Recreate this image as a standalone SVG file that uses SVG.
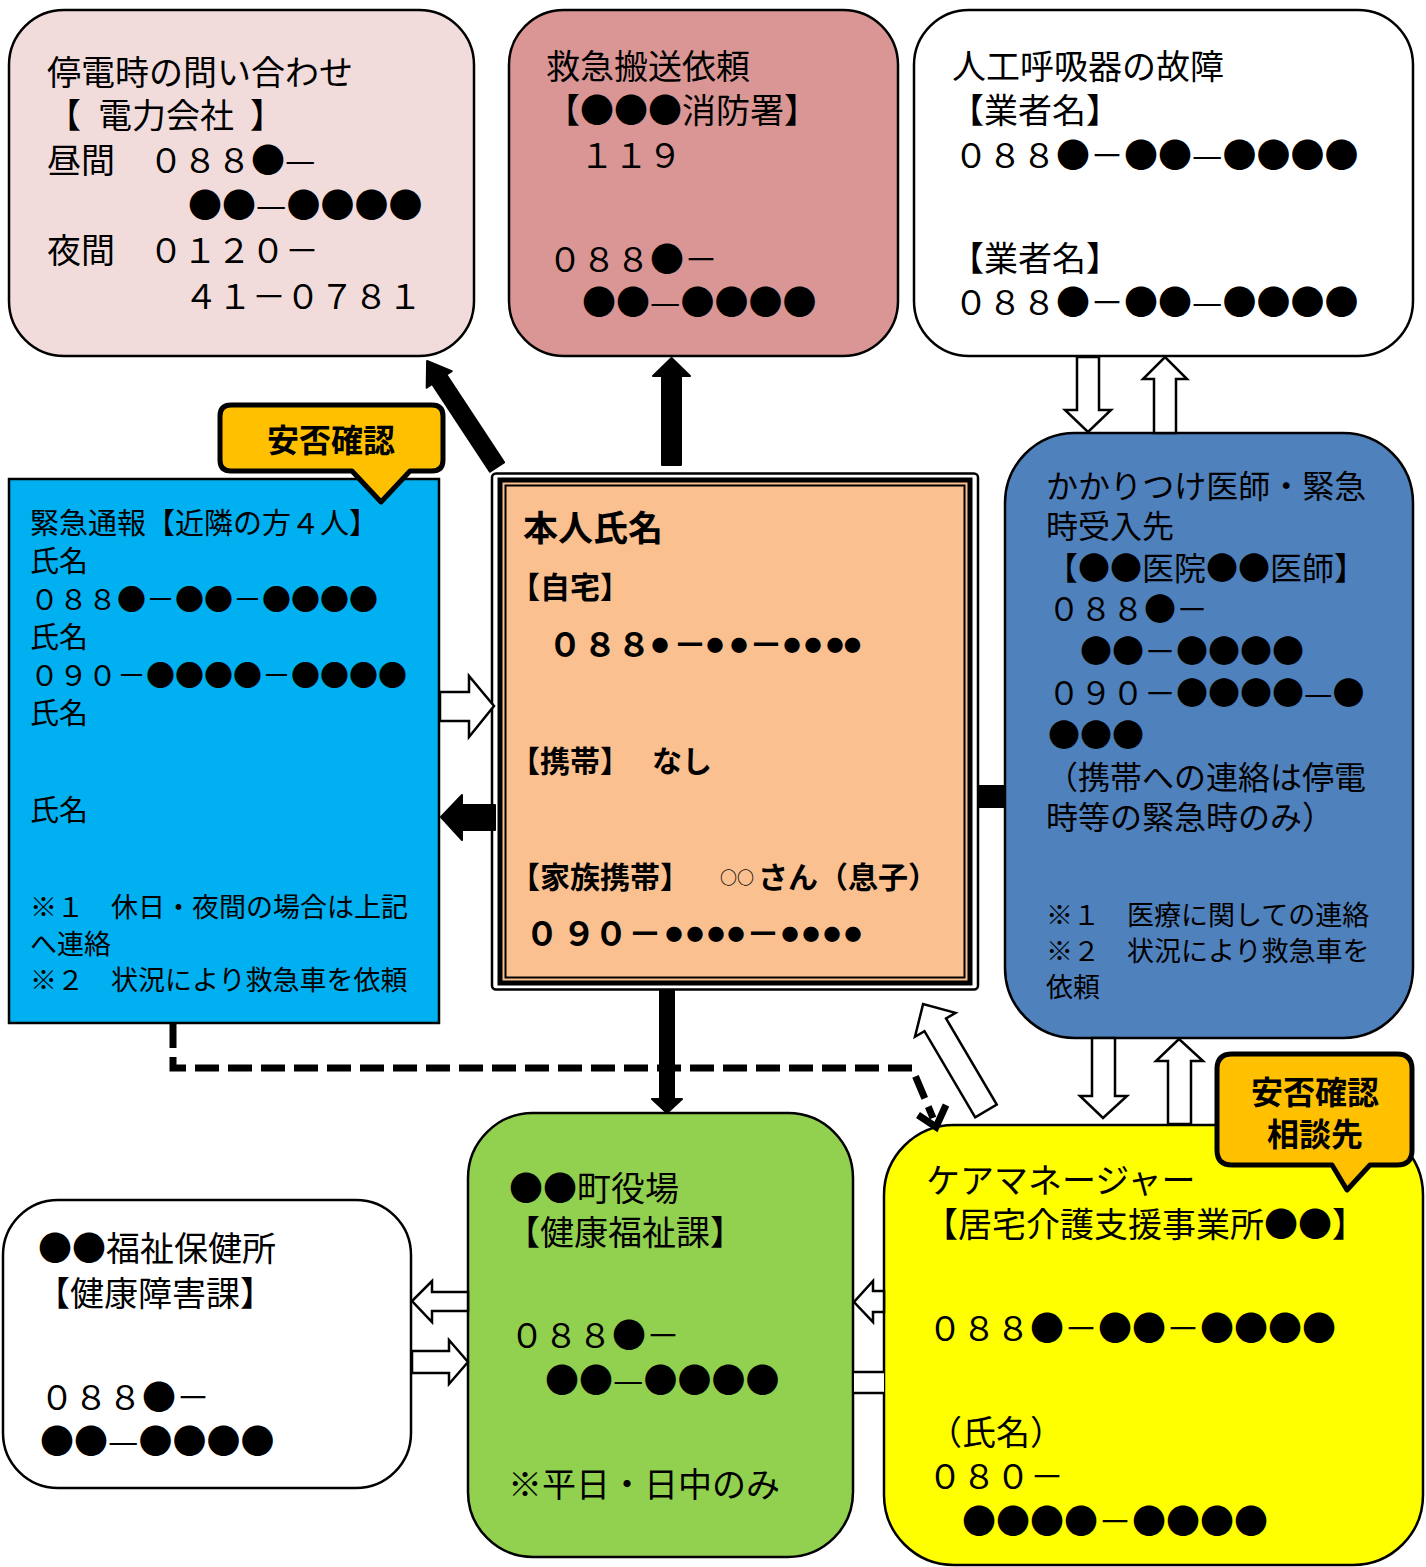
<svg xmlns="http://www.w3.org/2000/svg" width="1426" height="1567" viewBox="0 0 1426 1567">
<style>
text{font-family:"Noto Sans CJK JP","Noto Sans CJK SC",sans-serif;fill:#000}
.f34{font-size:34px}
.f32{font-size:32px}
.f29{font-size:29px}
.f27{font-size:27px}
.bd{font-weight:bold}
.sm{font-size:17px}
.box{stroke:#000;stroke-width:2.5}
.wa{fill:#fff;stroke:#000;stroke-width:2.5;stroke-linejoin:miter}
.ba{fill:#000;stroke:#000;stroke-width:2;stroke-linejoin:round}
.callout{fill:#FFC000;stroke:#000;stroke-width:5;stroke-linejoin:round}
</style>
<rect width="1426" height="1567" fill="#fff"/>

<g id="node-power">
<rect class="box" x="9" y="10" width="465" height="346" rx="55" fill="#F2DCDB"/>
<text class="f34">
<tspan x="47" y="85">停電時の問い合わせ</tspan>
<tspan x="47" y="128">【 </tspan><tspan x="98" y="128">電力会社 </tspan><tspan x="250" y="128">】</tspan>
<tspan x="47" y="173">昼間　０８８●—</tspan>
<tspan x="188" y="218">●●—●●●●</tspan>
<tspan x="47" y="263">夜間　０１２０－</tspan>
<tspan x="184" y="309">４１－０７８１</tspan>
</text>
</g>

<g id="node-ambulance">
<rect class="box" x="509" y="10" width="389" height="346" rx="55" fill="#D99694"/>
<text class="f34">
<tspan x="546" y="79">救急搬送依頼</tspan>
<tspan x="546" y="123">【●●●消防署】</tspan>
<tspan x="580" y="168">１１９</tspan>
<tspan x="548" y="272">０８８●－</tspan>
<tspan x="582" y="315">●●—●●●●</tspan>
</text>
</g>

<g id="node-ventilator">
<rect class="box" x="914" y="10" width="499" height="346" rx="55" fill="#fff"/>
<text class="f34">
<tspan x="952" y="79">人工呼吸器の故障</tspan>
<tspan x="950" y="123">【業者名】</tspan>
<tspan x="954" y="168">０８８●－●●—●●●●</tspan>
<tspan x="950" y="271">【業者名】</tspan>
<tspan x="954" y="315">０８８●－●●—●●●●</tspan>
</text>
</g>

<g id="node-neighbors">
<rect class="box" x="9" y="479" width="430" height="544" fill="#00B0F0"/>
<text class="f29">
<tspan x="30" y="534">緊急通報【近隣の方４人】</tspan>
<tspan x="30" y="572">氏名</tspan>
<tspan x="30" y="610">０８８●－●●－●●●●</tspan>
<tspan x="30" y="648">氏名</tspan>
<tspan x="30" y="686">０９０－●●●●－●●●●</tspan>
<tspan x="30" y="724">氏名</tspan>
<tspan x="30" y="821">氏名</tspan>
<tspan class="f27" x="30" y="917">※１　休日・夜間の場合は上記</tspan>
<tspan class="f27" x="30" y="954">へ連絡</tspan>
<tspan class="f27" x="30" y="990">※２　状況により救急車を依頼</tspan>
</text>
</g>

<g id="callout-anpi">
<path class="callout" d="M231 405 H432 Q443 405 443 416 V460 Q443 471 432 471 H410 L381 502 L352 471 H231 Q220 471 220 460 V416 Q220 405 231 405 Z"/>
<text class="f32 bd" x="331" y="452" text-anchor="middle">安否確認</text>
</g>

<g id="node-person">
<rect x="492" y="473.5" width="486" height="516" rx="4" fill="#fff" stroke="#000" stroke-width="2.5"/>
<rect x="500" y="480" width="470" height="503" fill="#FAC090" stroke="#000" stroke-width="5"/>
<rect x="505.5" y="485.5" width="459" height="492" fill="none" stroke="#000" stroke-width="2"/>
<text class="bd" font-size="30">
<tspan x="523" y="541" font-size="35">本人氏名</tspan>
<tspan x="510" y="598">【自宅】</tspan>
<tspan font-size="34" text-anchor="middle" x="565 600 634 660 690 715 739 766 792 813 835 856" y="657 657 657 652 657 652 652 657 652 652 652 652">０８８<tspan class="sm">●</tspan>－<tspan class="sm">●●</tspan>－<tspan class="sm">●●●●</tspan></tspan>
<tspan x="510" y="772">【携帯】</tspan><tspan x="652" y="772">なし</tspan>
<tspan x="510" y="888">【家族携帯】</tspan><tspan class="sm" x="720" y="884">○○</tspan><tspan x="758" y="888">さん（息子）</tspan>
<tspan font-size="34" text-anchor="middle" x="542 579 611 645 674 695 716 736 763 790 811 832 853" y="946 946 946 946 941 941 941 941 946 941 941 941 941">０９０－<tspan class="sm">●●●●</tspan>－<tspan class="sm">●●●●</tspan></tspan>
</text>
</g>

<g id="node-doctor">
<rect class="box" x="1005" y="433" width="408" height="605" rx="70" fill="#4F81BD"/>
<text class="f32">
<tspan x="1046" y="498">かかりつけ医師・緊急</tspan>
<tspan x="1046" y="538">時受入先</tspan>
<tspan x="1046" y="580">【●●医院●●医師】</tspan>
<tspan x="1048" y="621">０８８●－</tspan>
<tspan x="1080" y="663">●●－●●●●</tspan>
<tspan x="1048" y="705">０９０－●●●●—●</tspan>
<tspan x="1048" y="747">●●●</tspan>
<tspan x="1046" y="789">（携帯への連絡は停電</tspan>
<tspan x="1046" y="829">時等の緊急時のみ）</tspan>
<tspan class="f27" x="1046" y="925">※１　医療に関しての連絡</tspan>
<tspan class="f27" x="1046" y="961">※２　状況により救急車を</tspan>
<tspan class="f27" x="1046" y="997">依頼</tspan>
</text>
</g>

<g id="node-townhall">
<rect class="box" x="468" y="1113" width="385" height="444" rx="65" fill="#92D050"/>
<text class="f34">
<tspan x="509" y="1201">●●町役場</tspan>
<tspan x="506" y="1245">【健康福祉課】</tspan>
<tspan x="510" y="1348">０８８●－</tspan>
<tspan x="545" y="1393">●●—●●●●</tspan>
<tspan x="508" y="1497">※平日・日中のみ</tspan>
</text>
</g>

<g id="node-health">
<rect class="box" x="3" y="1200" width="408" height="288" rx="55" fill="#fff"/>
<text class="f34">
<tspan x="38" y="1261">●●福祉保健所</tspan>
<tspan x="36" y="1306">【健康障害課】</tspan>
<tspan x="40" y="1410">０８８●－</tspan>
<tspan x="40" y="1454">●●—●●●●</tspan>
</text>
</g>

<g id="node-caremanager">
<rect class="box" x="884" y="1125" width="539" height="440" rx="70" fill="#FFFF00"/>
<text class="f34">
<tspan x="926" y="1193">ケアマネージャー</tspan>
<tspan x="924" y="1237">【居宅介護支援事業所●●】</tspan>
<tspan x="928" y="1341">０８８●－●●－●●●●</tspan>
<tspan x="928" y="1445">（氏名）</tspan>
<tspan x="928" y="1489">０８０－</tspan>
<tspan x="962" y="1534">●●●●－●●●●</tspan>
</text>
</g>

<g id="callout-anpi-soudan">
<path class="callout" d="M1232 1054 H1397 Q1412 1054 1412 1069 V1150 Q1412 1165 1397 1165 H1370 L1347 1190 L1332 1165 H1232 Q1217 1165 1217 1150 V1069 Q1217 1054 1232 1054 Z"/>
<text class="f32 bd" text-anchor="middle"><tspan x="1315" y="1104">安否確認</tspan><tspan x="1315" y="1146">相談先</tspan></text>
</g>

<g id="connectors">
<polygon class="ba" transform="translate(497,467) rotate(-123.4)" points="0,-8.5 105,-8.5 105,-15 127,0 105,15 105,8.5 0,8.5"/>
<polygon class="ba" points="662,465 662,376 653,376 671.5,358 690,376 681,376 681,465"/>
<polygon class="ba" points="660,990 674,990 674,1099 682,1099 667,1113 652,1099 660,1099"/>
<polygon class="wa" points="1077,357 1099,357 1099,410 1111,410 1088,432 1065,410 1077,410"/>
<polygon class="wa" points="1154,433 1154,379 1143,379 1165,357 1187,379 1176,379 1176,433"/>
<polygon class="wa" points="1092,1038 1115,1038 1115,1096 1127,1096 1103,1118 1080,1096 1092,1096"/>
<polygon class="wa" points="1168,1124 1168,1061 1156,1061 1179,1039 1203,1061 1191,1061 1191,1124"/>
<polygon class="wa" transform="translate(986,1111) rotate(-120.5)" points="0,-12.5 100,-12.5 100,-23.5 124,0 100,23.5 100,12.5 0,12.5"/>
<polygon class="wa" points="440,692 469,692 469,676 494,706 469,737 469,721 440,721"/>
<polygon class="ba" points="495,805 462,805 462,795 441,817 462,840 462,830 495,830"/>
<rect x="978" y="785" width="27" height="23" fill="#000"/>
<polygon class="wa" points="468,1292 432,1292 432,1281 412,1301 432,1322 432,1311 468,1311"/>
<polygon class="wa" points="412,1351 449,1351 449,1340 468,1362 449,1384 449,1373 412,1373"/>
<polygon class="wa" points="884,1291 873,1291 873,1281 854,1302 873,1322 873,1312 884,1312"/>
<rect x="854" y="1372" width="30" height="21" fill="#fff"/>
<line x1="854" y1="1372" x2="884" y2="1372" stroke="#000" stroke-width="2.5"/>
<line x1="854" y1="1393" x2="884" y2="1393" stroke="#000" stroke-width="2.5"/>
<path d="M173,1024 V1068 H912 L933,1118" fill="none" stroke="#000" stroke-width="7" stroke-dasharray="24 9"/>
<polyline points="918,1115 936,1127 946,1105" fill="none" stroke="#000" stroke-width="7"/>
</g>
</svg>
